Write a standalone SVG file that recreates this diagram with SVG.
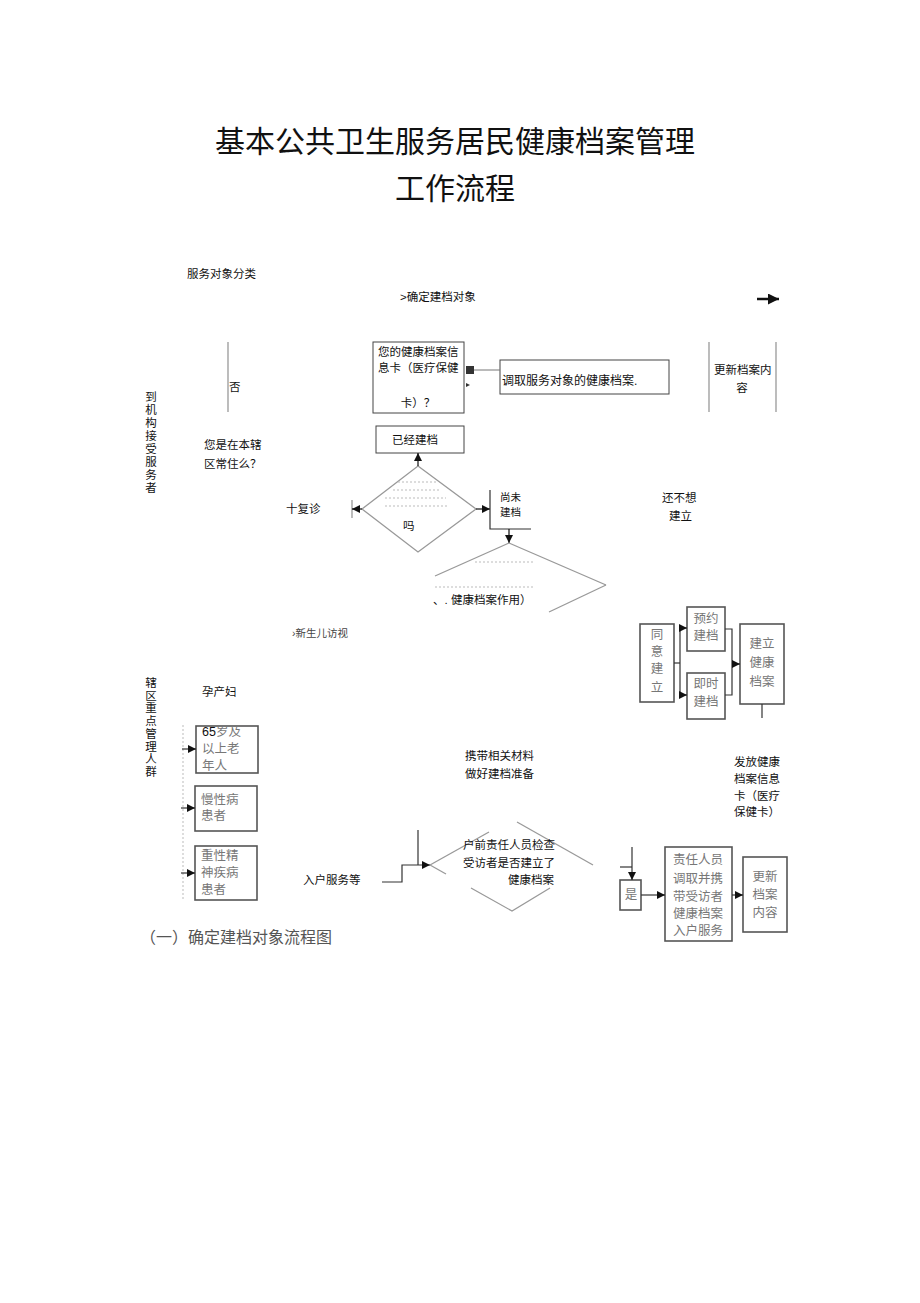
<svg xmlns="http://www.w3.org/2000/svg" width="920" height="1303" viewBox="0 0 920 1303">
<style>
text{font-family:"Liberation Sans","Noto Sans CJK SC",sans-serif;dominant-baseline:central;fill:#111}
.s{font-size:11.5px}
.m{font-size:10.5px}
.v{font-size:11.5px;text-anchor:middle}
.g{font-size:12.5px;fill:#777}
.box{fill:#fff;stroke:#444;stroke-width:1}
.box2{fill:#fff;stroke:#555;stroke-width:1.6}
.ln{fill:none;stroke:#999;stroke-width:1.3}
.dk{fill:none;stroke:#333;stroke-width:1.2}
.dot{fill:none;stroke:#bbb;stroke-width:1;stroke-dasharray:2 2}
</style>
<defs>
<marker id="ah" viewBox="0 0 10 10" refX="10" refY="5" markerWidth="10" markerHeight="8" orient="auto" markerUnits="userSpaceOnUse"><path d="M0,0 L10,5 L0,10 z" fill="#111"/></marker>
<marker id="ahB" viewBox="0 0 10 10" refX="10" refY="5" markerWidth="14" markerHeight="11" orient="auto" markerUnits="userSpaceOnUse"><path d="M0,0 L10,5 L0,10 z" fill="#111"/></marker>
</defs>
<rect width="920" height="1303" fill="#fff"/>

<g id="title">
<text x="455" y="141" text-anchor="middle" style="font-size:30px">基本公共卫生服务居民健康档案管理</text>
<text x="455" y="188" text-anchor="middle" style="font-size:30px">工作流程</text>
</g>

<g id="n-classify"><text class="s" x="187" y="274">服务对象分类</text></g>
<g id="n-determine"><text class="s" x="400" y="297">&gt;确定建档对象</text></g>

<g id="n-no">
<line x1="228" y1="342" x2="228" y2="412" class="ln"/>
<text class="s" x="229" y="387">否</text>
</g>

<g id="n-card">
<rect x="373" y="342" width="91" height="71" class="box"/>
<text class="s" x="378" y="352">您的健康档案信</text>
<text class="s" x="378" y="368">息卡（医疗保健</text>
<text class="s" x="418" y="403" text-anchor="middle">卡）？</text>
</g>

<g id="n-retrieve">
<rect x="500" y="360" width="169" height="34" class="box"/>
<text x="502" y="381" style="font-size:12px">调取服务对象的健康档案.</text>
</g>

<g id="n-update1">
<line x1="709" y1="342" x2="709" y2="412" class="ln"/>
<line x1="776" y1="342" x2="776" y2="412" class="ln"/>
<text class="s" x="714" y="370">更新档案内</text>
<text class="s" x="742" y="388" text-anchor="middle">容</text>
</g>

<g id="lane1">
<text class="v" x="151" y="397">到</text>
<text class="v" x="151" y="410">机</text>
<text class="v" x="151" y="423">构</text>
<text class="v" x="151" y="436">接</text>
<text class="v" x="151" y="449">受</text>
<text class="v" x="151" y="462">服</text>
<text class="v" x="151" y="475">务</text>
<text class="v" x="151" y="488">者</text>
</g>

<g id="n-resident">
<text class="s" x="204" y="445">您是在本辖</text>
<text class="s" x="204" y="464">区常住么？</text>
</g>

<g id="n-built">
<rect x="376" y="426" width="88" height="27" class="box"/>
<text class="s" x="392" y="440">已经建档</text>
</g>

<g id="n-dia1">
<polygon points="418,466 476,509 418,552 362,509" class="ln"/>
<line x1="398" y1="482" x2="438" y2="482" class="dot"/>
<line x1="393" y1="490" x2="440" y2="490" class="dot"/>
<line x1="385" y1="498" x2="446" y2="498" class="dot"/>
<line x1="385" y1="506" x2="448" y2="506" class="dot"/>
<text class="s" x="403" y="526">吗</text>
</g>

<g id="n-revisit"><text class="s" x="286" y="509">十复诊</text></g>

<g id="n-notbuilt">
<text class="m" x="500" y="497">尚未</text>
<text class="m" x="500" y="512">建档</text>
</g>

<g id="n-dia2">
<line x1="475" y1="562" x2="535" y2="562" class="dot"/>
<line x1="435" y1="587" x2="535" y2="587" class="dot"/>
<text class="s" x="433" y="600">、. 健康档案作用）</text>
</g>

<g id="n-notwant">
<text class="s" x="662" y="498">还不想</text>
<text class="s" x="669" y="516">建立</text>
</g>

<g id="n-newborn"><text class="m" x="292" y="633" style="fill:#444">›新生儿访视</text></g>

<g id="n-agree">
<rect x="640" y="624" width="34" height="78" class="box2"/>
<text class="g" x="657" y="635" text-anchor="middle">同</text>
<text class="g" x="657" y="652" text-anchor="middle">意</text>
<text class="g" x="657" y="669" text-anchor="middle">建</text>
<text class="g" x="657" y="688" text-anchor="middle">立</text>
</g>
<g id="n-appoint">
<rect x="687" y="607" width="38" height="44" class="box2"/>
<text class="g" x="706" y="619" text-anchor="middle">预约</text>
<text class="g" x="706" y="636" text-anchor="middle">建档</text>
</g>
<g id="n-instant">
<rect x="687" y="673" width="38" height="46" class="box2"/>
<text class="g" x="706" y="684" text-anchor="middle">即时</text>
<text class="g" x="706" y="702" text-anchor="middle">建档</text>
</g>
<g id="n-establish">
<rect x="740" y="624" width="44" height="80" class="box2"/>
<text class="g" x="762" y="644" text-anchor="middle">建立</text>
<text class="g" x="762" y="663" text-anchor="middle">健康</text>
<text class="g" x="762" y="682" text-anchor="middle">档案</text>
</g>

<g id="n-issue">
<text class="s" x="734" y="762">发放健康</text>
<text class="s" x="734" y="779">档案信息</text>
<text class="s" x="734" y="796">卡（医疗</text>
<text class="s" x="734" y="812">保健卡）</text>
</g>

<g id="lane2">
<text class="v" x="151" y="683">辖</text>
<text class="v" x="151" y="695.7">区</text>
<text class="v" x="151" y="708.4">重</text>
<text class="v" x="151" y="721.1">点</text>
<text class="v" x="151" y="733.8">管</text>
<text class="v" x="151" y="746.5">理</text>
<text class="v" x="151" y="759.2">人</text>
<text class="v" x="151" y="771.9">群</text>
</g>

<g id="n-pregnant"><text class="s" x="202" y="692">孕产妇</text></g>

<g id="n-elderly">
<rect x="196" y="726" width="62" height="47" class="box2"/>
<text class="g" x="202" y="732"><tspan style="fill:#111">65</tspan>岁及</text>
<text class="g" x="202" y="749">以上老</text>
<text class="g" x="202" y="766">年人</text>
</g>
<g id="n-chronic">
<rect x="195" y="786" width="62" height="45" class="box2"/>
<text class="g" x="201" y="800">慢性病</text>
<text class="g" x="201" y="816">患者</text>
</g>
<g id="n-mental">
<rect x="195" y="846" width="62" height="54" class="box2"/>
<text class="g" x="201" y="856">重性精</text>
<text class="g" x="201" y="873">神疾病</text>
<text class="g" x="201" y="890">患者</text>
</g>

<g id="n-carry">
<text class="s" x="465" y="756">携带相关材料</text>
<text class="s" x="465" y="774">做好建档准备</text>
</g>

<g id="n-home"><text class="s" x="303" y="880">入户服务等</text></g>

<g id="n-dia3">
<line x1="430" y1="865" x2="489" y2="832" class="ln"/>
<line x1="430" y1="865" x2="446" y2="874" class="ln"/>
<line x1="517" y1="822" x2="593" y2="865" class="ln"/>
<polyline points="471,888 512,911 550,888" class="ln"/>
<text class="s" x="463" y="845">户前责任人员检查</text>
<text class="s" x="463" y="863">受访者是否建立了</text>
<text class="s" x="508" y="880">健康档案</text>
</g>

<g id="n-yes">
<rect x="620" y="880" width="21" height="30" class="box2"/>
<text class="g" x="631" y="895" text-anchor="middle">是</text>
</g>
<g id="n-visit">
<rect x="665" y="847" width="67" height="94" class="box2"/>
<text class="g" x="698" y="860" text-anchor="middle">责任人员</text>
<text class="g" x="698" y="879" text-anchor="middle">调取并携</text>
<text class="g" x="698" y="897" text-anchor="middle">带受访者</text>
<text class="g" x="698" y="914" text-anchor="middle">健康档案</text>
<text class="g" x="698" y="931" text-anchor="middle">入户服务</text>
</g>
<g id="n-update2">
<rect x="743" y="857" width="44" height="75" class="box2"/>
<text class="g" x="765" y="877" text-anchor="middle">更新</text>
<text class="g" x="765" y="895" text-anchor="middle">档案</text>
<text class="g" x="765" y="913" text-anchor="middle">内容</text>
</g>

<g id="caption"><text x="140" y="937" style="font-size:16px;fill:#555">（一）确定建档对象流程图</text></g>

<g id="connectors">
<line x1="757" y1="299" x2="779" y2="299" stroke="#111" stroke-width="2.5" marker-end="url(#ahB)"/>
<rect x="466" y="366" width="8" height="8" fill="#333"/>
<line x1="474" y1="370" x2="500" y2="370" stroke="#777" stroke-width="1"/>
<path d="M466,383 L470,385 L466,387 z" fill="#333"/>
<line x1="418" y1="466" x2="418" y2="453" stroke="#111" stroke-width="1.2" marker-end="url(#ah)"/>
<line x1="352" y1="500" x2="352" y2="518" class="ln"/>
<line x1="362" y1="509" x2="352" y2="509" stroke="#111" stroke-width="1.2" marker-end="url(#ah)"/>
<line x1="476" y1="509" x2="490" y2="509" stroke="#111" stroke-width="1.2" marker-end="url(#ah)"/>
<polyline points="490,490 490,529 531,529" class="dk"/>
<line x1="509" y1="529" x2="509" y2="543" stroke="#111" stroke-width="1.2" marker-end="url(#ah)"/>
<line x1="509" y1="543" x2="435" y2="576" class="ln"/>
<line x1="509" y1="543" x2="606" y2="585" class="ln"/>
<line x1="606" y1="585" x2="549" y2="612" class="ln"/>
<line x1="674" y1="663" x2="680" y2="663" class="dk"/>
<line x1="680" y1="628" x2="680" y2="695" class="dk"/>
<line x1="680" y1="628" x2="687" y2="628" class="dk" marker-end="url(#ah)"/>
<line x1="680" y1="695" x2="687" y2="695" class="dk" marker-end="url(#ah)"/>
<polyline points="725,629 732,629 732,695 725,695" class="dk"/>
<line x1="732" y1="664" x2="740" y2="664" class="dk" marker-end="url(#ah)"/>
<line x1="762" y1="704" x2="762" y2="718" class="dk"/>
<line x1="183" y1="725" x2="183" y2="900" class="dot"/>
<line x1="182" y1="749" x2="196" y2="749" class="dk" marker-end="url(#ah)"/>
<line x1="181" y1="808" x2="195" y2="808" class="dk" marker-end="url(#ah)"/>
<line x1="181" y1="873" x2="195" y2="873" class="dk" marker-end="url(#ah)"/>
<line x1="418" y1="830" x2="418" y2="865" class="dk"/>
<polyline points="382,882 402,882 402,865 430,865" class="dk" marker-end="url(#ah)"/>
<line x1="620" y1="867" x2="632" y2="867" class="dk"/>
<line x1="632" y1="847" x2="632" y2="880" class="dk" marker-end="url(#ah)"/>
<line x1="641" y1="895" x2="665" y2="895" class="dk" marker-end="url(#ah)"/>
<line x1="732" y1="895" x2="743" y2="895" class="dk" marker-end="url(#ah)"/>
</g>
</svg>
